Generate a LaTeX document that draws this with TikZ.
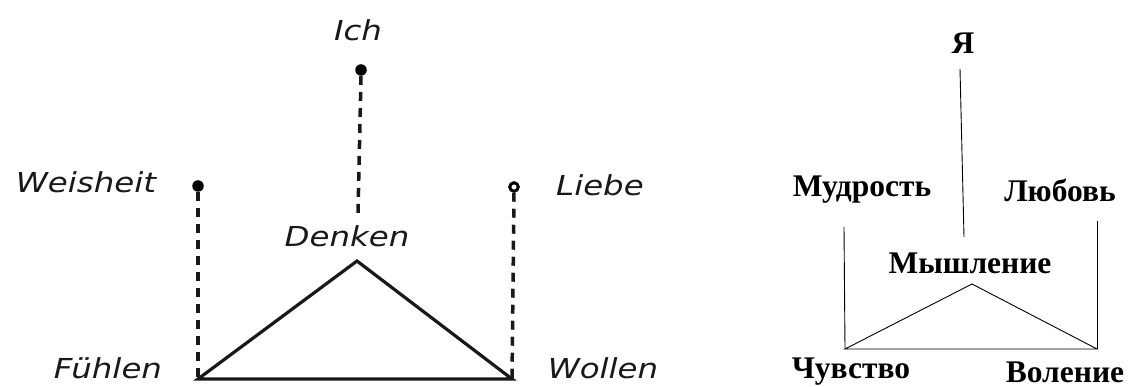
\documentclass[tikz,border=0pt]{standalone}
\usepackage{fontspec}
\setmainfont{Liberation Serif}
\newfontfamily\handfont[FakeStretch=1.18]{DejaVu Sans}
\begin{document}
\begin{tikzpicture}[x=1pt,y=-1pt,
  hand/.style={font=\handfont\itshape\fontsize{27.5}{30}\selectfont, text=black!90, inner sep=0pt},
  ru/.style={font=\bfseries\fontsize{31.5}{34}\selectfont, inner sep=0pt},
  dashline/.style={line width=3.5pt, dash pattern=on 9pt off 7pt, black!90},
  solidline/.style={line width=3.2pt, black!90},
  thin/.style={line width=0.9pt},
  fdot/.style={circle, fill=black, inner sep=0pt, minimum size=11.5pt},
  odot/.style={circle, draw=black, line width=3pt, fill=white, inner sep=0pt, minimum size=8.5pt}]
\useasboundingbox (0,0) rectangle (1130,387);
% left diagram
\node[hand] (ich) at (358,30) {Ich};
\node[hand] (weis) at (86,182) {Weisheit};
\node[hand] (liebe) at (600,185) {Liebe};
\node[hand] (denken) at (347,236) {Denken};
\node[hand] (fuehlen) at (108,368) {Fühlen};
\node[hand] (wollen) at (603,368) {Wollen};
\node[fdot] (dich) at (361,70) {};
\node[fdot] (dweis) at (198,186) {};
\node[odot] (dliebe) at (514,187) {};
\coordinate (ichend) at (358,213);
\coordinate (apex) at (357,261);
\coordinate (fl) at (198,379);
\coordinate (wl) at (512,379);
\draw[dashline] (dich.south) -- (ichend);
\draw[dashline] (dweis.south) -- (fl);
\draw[dashline] (dliebe.south) -- (wl);
\draw[solidline, line join=miter] (fl) -- (apex) -- (wl) -- cycle;
% right diagram
\node[ru] (ya) at (963,43) {Я};
\node[ru] (mud) at (862,190) {Мудрость};
\node[ru] (lyub) at (1060,190) {Любовь};
\node[ru] (mysh) at (970,263) {Мышление};
\node[ru] (chuv) at (851,372) {Чувство};
\node[ru] (vol) at (1065,372) {Воление};
\coordinate (yatop) at (960,69);
\coordinate (yabot) at (964,237);
\coordinate (mudbot) at (844,227);
\coordinate (lyubbot) at (1097,221);
\coordinate (rapex) at (972,284);
\coordinate (rl) at (845,349);
\coordinate (rr) at (1097,349);
\draw[thin] (yatop) -- (yabot);
\draw[thin] (mudbot) -- (rl);
\draw[thin] (lyubbot) -- (rr);
\draw[thin] (rl) -- (rapex) -- (rr) -- cycle;
\end{tikzpicture}
\end{document}
